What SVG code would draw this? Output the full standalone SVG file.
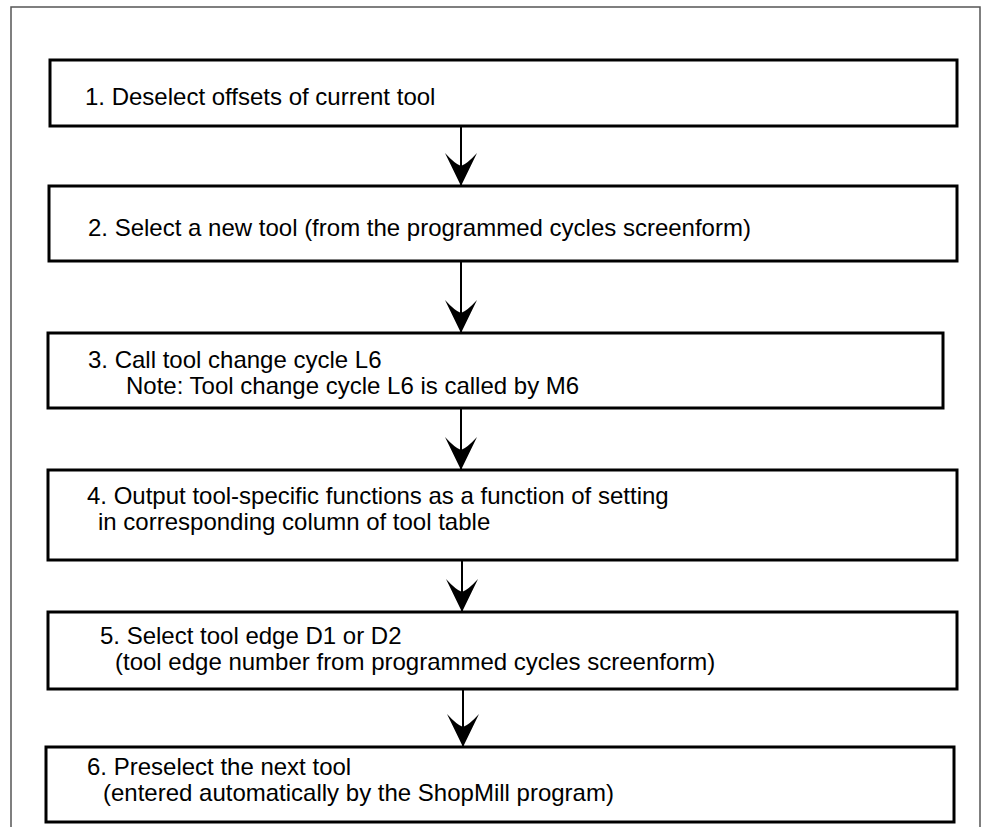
<svg xmlns="http://www.w3.org/2000/svg" width="981" height="827" viewBox="0 0 981 827">
<style>
.frame{fill:none;stroke:#555;stroke-width:1.5}
.box{fill:#fff;stroke:#000;stroke-width:3}
.t{font-family:"Liberation Sans",Arial,sans-serif;font-size:24px;fill:#000}
.c{stroke:#000;stroke-width:2;fill:none}
</style>
<defs>
<marker id="ah" markerUnits="userSpaceOnUse" markerWidth="34" markerHeight="34" viewBox="-17 -33 34 34" refX="0" refY="0" orient="auto-start-reverse" overflow="visible">
<path d="M0,0 L-16,-33 Q-6,-22 0,-20 Q6,-22 16,-33 Z" fill="#000" transform="rotate(-90)"/>
</marker>
</defs>
<rect class="frame" x="11" y="7" width="969" height="830"/>
<g id="connectors">
<line class="c" x1="461" y1="126" x2="461" y2="186" marker-end="url(#ah)"/>
<line class="c" x1="461" y1="261" x2="461" y2="333" marker-end="url(#ah)"/>
<line class="c" x1="461" y1="408" x2="461" y2="470" marker-end="url(#ah)"/>
<line class="c" x1="462" y1="560" x2="462" y2="612" marker-end="url(#ah)"/>
<line class="c" x1="463" y1="689" x2="463" y2="747" marker-end="url(#ah)"/>
</g>
<g id="n1"><rect class="box" x="50" y="60" width="907" height="66"/><text class="t" x="85" y="105">1. Deselect offsets of current tool</text></g>
<g id="n2"><rect class="box" x="49" y="186" width="908" height="75"/><text class="t" x="88" y="236">2. Select a new tool (from the programmed cycles screenform)</text></g>
<g id="n3"><rect class="box" x="48" y="333" width="895" height="75"/><text class="t" x="88" y="368">3. Call tool change cycle L6</text><text class="t" x="126" y="394">Note: Tool change cycle L6 is called by M6</text></g>
<g id="n4"><rect class="box" x="48" y="470" width="909" height="90"/><text class="t" x="87" y="504">4. Output tool-specific functions as a function of setting</text><text class="t" x="98" y="530">in corresponding column of tool table</text></g>
<g id="n5"><rect class="box" x="48" y="612" width="909" height="77"/><text class="t" x="100" y="644">5. Select tool edge D1 or D2</text><text class="t" x="115" y="670">(tool edge number from programmed cycles screenform)</text></g>
<g id="n6"><rect class="box" x="46" y="747" width="908" height="75"/><text class="t" x="87" y="775">6. Preselect the next tool</text><text class="t" x="103" y="801">(entered automatically by the ShopMill program)</text></g>
</svg>
